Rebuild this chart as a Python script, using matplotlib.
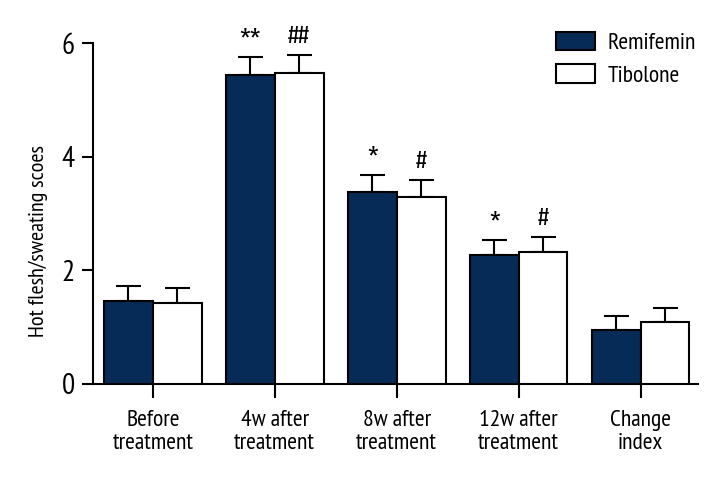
import matplotlib
matplotlib.use("Agg")
import matplotlib.pyplot as plt
import numpy as np

categories = ["Before\ntreatment", "4w after\ntreatment", "8w after\ntreatment", "12w after\ntreatment", "Change\nindex"]
remifemin = [1.46, 5.43, 3.37, 2.27, 0.95]
remifemin_err = [0.27, 0.33, 0.31, 0.27, 0.24]
tibolone = [1.43, 5.48, 3.29, 2.33, 1.09]
tibolone_err = [0.26, 0.31, 0.30, 0.26, 0.25]
rem_marks = ["", "**", "*", "*", ""]
tib_marks = ["", "##", "#", "#", ""]

plt.rcParams["font.family"] = ["PT Sans Narrow", "Fira Sans Condensed", "DejaVu Sans"]
mark_font = ["Fira Sans Condensed", "DejaVu Sans"]

fig = plt.figure(figsize=(7.2, 4.8), dpi=100)
ax = fig.add_axes([93/720, 1-384/480, (698-93)/720, (384-43)/480])

x = np.arange(len(categories))
w = 0.4
navy = "#062b57"
ax.bar(x - w/2, remifemin, w, color=navy, edgecolor="black", linewidth=1.5, label="Remifemin", zorder=3)
ax.bar(x + w/2, tibolone, w, color="white", edgecolor="black", linewidth=1.5, label="Tibolone", zorder=3)
ax.errorbar(x - w/2, remifemin, yerr=[np.zeros(5), remifemin_err], fmt="none", ecolor="black",
            elinewidth=1.5, capsize=9, capthick=1.5, zorder=2)
ax.errorbar(x + w/2, tibolone, yerr=[np.zeros(5), tibolone_err], fmt="none", ecolor="black",
            elinewidth=1.5, capsize=9, capthick=1.5, zorder=2)

for i in range(len(categories)):
    if rem_marks[i]:
        ax.annotate(rem_marks[i], (x[i] - w/2, remifemin[i] + remifemin_err[i]), xytext=(0, 4),
                    textcoords="offset points", ha="center", va="bottom", fontsize=19,
                    family=mark_font)
    if tib_marks[i]:
        ax.annotate(tib_marks[i], (x[i] + w/2, tibolone[i] + tibolone_err[i]), xytext=(0, 5),
                    textcoords="offset points", ha="center", va="bottom", fontsize=17,
                    family=mark_font)

ax.set_xlim(-0.49, 4.47)
ax.set_ylim(0, 6)
ax.set_yticks([0, 2, 4, 6])
ax.set_xticks(x)
ax.set_xticklabels(categories, fontsize=17, linespacing=1.1)
ax.tick_params(axis="y", labelsize=21, length=8, width=1.5, pad=5)
ax.tick_params(axis="x", length=10, width=1.5, pad=9)
for s in ["top", "right"]:
    ax.spines[s].set_visible(False)
for s in ["left", "bottom"]:
    ax.spines[s].set_linewidth(1.5)
ax.set_ylabel("Hot flesh/sweating scoes", fontsize=16)
ax.yaxis.set_label_coords(-0.075, 0.42)

leg = ax.legend(loc="upper right", bbox_to_anchor=(1.02, 1.075), frameon=False, fontsize=17,
                handlelength=1.65, handleheight=0.8, labelspacing=0.45, handletextpad=0.55,
                borderaxespad=0.2)

fig.savefig("out.png", dpi=100)
